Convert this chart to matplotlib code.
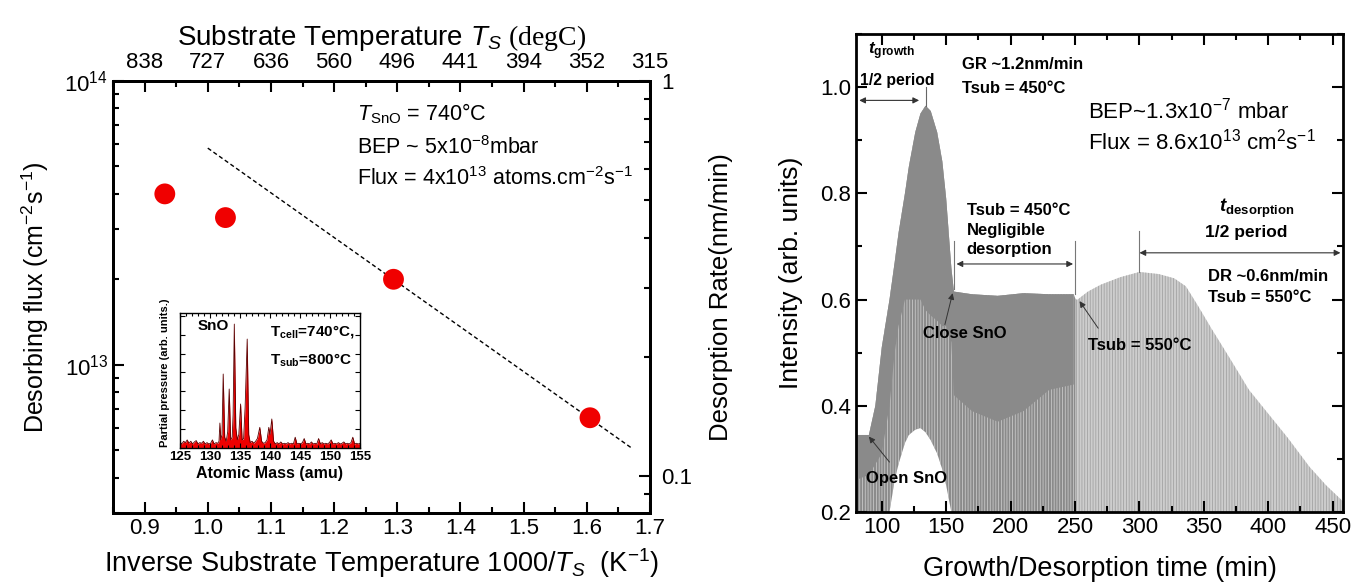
import numpy as np
import matplotlib
matplotlib.use("Agg")
import matplotlib.pyplot as plt
from matplotlib.ticker import FixedLocator, FixedFormatter, LogLocator, NullFormatter, MultipleLocator, LogFormatterMathtext

plt.rcParams['font.family'] = ['Liberation Sans', 'DejaVu Sans']
plt.rcParams['mathtext.fontset'] = 'custom'
plt.rcParams['mathtext.rm'] = 'Liberation Sans'
plt.rcParams['mathtext.it'] = 'Liberation Sans:italic'
plt.rcParams['mathtext.bf'] = 'Liberation Sans:bold'
plt.rcParams['mathtext.bfit'] = 'Liberation Sans:italic:bold'
plt.rcParams['mathtext.sf'] = 'Liberation Serif'
plt.rcParams['hatch.linewidth'] = 0.6

# ---------------- data: left panel ----------------
inv_T = [0.932, 1.028, 1.294, 1.605]          # 1000/T (K^-1)
flux = [4.0e13, 3.3e13, 2.0e13, 6.5e12]       # cm^-2 s^-1
fit_x = [1.0, 1.67]
fit_y = [5.8e13, 5.1e12]
bottom_ticks = [0.9, 1.0, 1.1, 1.2, 1.3, 1.4, 1.5, 1.6, 1.7]
top_tick_labels = ['838', '727', '636', '560', '496', '441', '394', '352', '315']

# inset mass spectrum
mass = [125.0, 125.3, 125.6, 125.9, 126.2, 126.5, 126.8, 127.1, 127.4, 127.7, 128.0,
        128.3, 128.6, 128.9, 129.2, 129.5, 129.8, 130.1, 130.4, 130.7, 131.0, 131.3,
        131.5, 131.65, 131.8, 132.0, 132.2, 132.45, 132.7, 132.95, 133.2, 133.45, 133.7,
        133.85, 134.05, 134.3, 134.55, 134.8, 135.1, 135.35, 135.6, 135.85, 136.2, 136.45,
        136.7, 137.0, 137.3, 137.6, 137.9, 138.3, 138.6, 138.9, 139.2, 139.5, 139.8, 140.0,
        140.3, 140.6, 140.9, 141.2, 141.5, 141.8, 142.1, 142.4, 142.7, 143.0, 143.3, 143.6,
        143.9, 144.2, 144.5, 144.8, 145.1, 145.4, 145.7, 146.0, 146.3, 146.6, 146.9, 147.2,
        147.5, 147.8, 148.1, 148.4, 148.7, 149.0, 149.3, 149.6, 149.9, 150.2, 150.5, 150.8,
        151.1, 151.4, 151.7, 152.0, 152.3, 152.6, 152.9, 153.2, 153.5, 153.8, 154.1, 154.4,
        154.7, 155.0]
pressure = [0.045, 0.03, 0.05, 0.04, 0.06, 0.035, 0.05, 0.03, 0.045, 0.055, 0.03,
            0.04, 0.035, 0.05, 0.03, 0.04, 0.03, 0.035, 0.06, 0.03, 0.04, 0.035,
            0.05, 0.185, 0.06, 0.10, 0.548, 0.08, 0.05, 0.12, 0.437, 0.06, 0.08,
            0.25, 0.918, 0.15, 0.06, 0.10, 0.326, 0.06, 0.07, 0.30, 0.807, 0.10,
            0.04, 0.05, 0.035, 0.05, 0.07, 0.153, 0.05, 0.035, 0.04, 0.06, 0.153, 0.10,
            0.215, 0.05, 0.03, 0.04, 0.03, 0.045, 0.03, 0.035, 0.03, 0.04, 0.03, 0.035,
            0.03, 0.08, 0.03, 0.035, 0.03, 0.04, 0.07, 0.03, 0.035, 0.03, 0.045, 0.03,
            0.035, 0.03, 0.07, 0.03, 0.04, 0.03, 0.035, 0.03, 0.04, 0.06, 0.03, 0.035,
            0.03, 0.04, 0.03, 0.035, 0.045, 0.03, 0.035, 0.03, 0.04, 0.08, 0.03, 0.035,
            0.03, 0.035]

# ---------------- data: right panel (RHEED envelope) ----------------
t_env = [80, 90, 95, 100, 106, 110, 113, 118, 121, 126, 130, 134, 138, 143, 147, 150,
         154, 156, 170, 190, 210, 230, 249, 250.5, 252, 260, 270, 285, 300, 315, 327,
         336, 345, 356, 370, 385, 400, 415, 432, 445, 458]
upper = [0.345, 0.345, 0.40, 0.51, 0.60, 0.67, 0.725, 0.80, 0.85, 0.915, 0.95, 0.965,
         0.955, 0.915, 0.86, 0.79, 0.66, 0.615, 0.61, 0.607, 0.612, 0.61, 0.61, 0.60,
         0.60, 0.615, 0.628, 0.642, 0.652, 0.648, 0.64, 0.625, 0.59, 0.545, 0.49, 0.43,
         0.385, 0.34, 0.285, 0.25, 0.22]
hole = [0.19, 0.19, 0.19, 0.19, 0.20, 0.26, 0.29, 0.33, 0.345, 0.355, 0.358, 0.35,
        0.335, 0.31, 0.28, 0.25, 0.20, 0.19, 0.19, 0.19, 0.19, 0.19, 0.19, 0.19,
        0.19, 0.19, 0.19, 0.19, 0.19, 0.19, 0.19, 0.19, 0.19, 0.19, 0.19, 0.19,
        0.19, 0.19, 0.19, 0.19, 0.19]
dark_lower = [0.26, 0.27, 0.29, 0.31, 0.40, 0.50, 0.55, 0.60, 0.60, 0.60, 0.60, 0.58,
              0.57, 0.56, 0.55, 0.55, 0.52, 0.42, 0.39, 0.37, 0.39, 0.43, 0.44, np.nan,
              np.nan, np.nan, np.nan, np.nan, np.nan, np.nan, np.nan, np.nan, np.nan,
              np.nan, np.nan, np.nan, np.nan, np.nan, np.nan, np.nan, np.nan]
growth_end = 250.5

fig = plt.figure(figsize=(13.51, 5.84), dpi=100)

TICK = 16
LAB = 19.5

# ================= LEFT PANEL =================
ax = fig.add_axes([113/1351, 1-513/584, 537/1351, 432/584])
ax.set_xlim(0.85, 1.7)
ax.set_yscale('log')
ax.set_ylim(3e12, 1e14)
ax.plot(fit_x, fit_y, ls=(0, (3, 2)), color='black', lw=1.0, zorder=2)
ax.scatter(inv_T, flux, s=225, color='#f00000', edgecolors='none', zorder=3)
ax.set_xticks(bottom_ticks)
ax.set_xticklabels([f'{v:.1f}' for v in bottom_ticks])
ax.xaxis.set_minor_locator(MultipleLocator(0.05))
ax.yaxis.set_major_locator(LogLocator(base=10))
ax.yaxis.set_major_formatter(LogFormatterMathtext())
ax.yaxis.set_minor_locator(LogLocator(base=10, subs=np.arange(2, 10)))
ax.yaxis.set_minor_formatter(NullFormatter())
ax.tick_params(which='both', direction='in', top=False, right=False, width=1.5)
ax.tick_params(which='major', length=8, labelsize=TICK)
ax.tick_params(which='minor', length=4)
for s in ax.spines.values():
    s.set_linewidth(2)
ax.set_xlabel(r'Inverse Substrate Temperature 1000/$T_S$  (K$^{-1}$)', fontsize=LAB, labelpad=5)
ax.set_ylabel(r'Desorbing flux (cm$^{-2}$s$^{-1}$)', fontsize=18, labelpad=10)

axr = ax.twinx()
axr.set_yscale('log')
axr.set_ylim(0.0806, 1.0)
axr.yaxis.set_major_locator(FixedLocator([0.1, 1.0]))
axr.yaxis.set_major_formatter(FixedFormatter(['0.1', '1']))
axr.yaxis.set_minor_locator(LogLocator(base=10, subs=np.arange(2, 10)))
axr.yaxis.set_minor_formatter(NullFormatter())
axr.tick_params(which='both', direction='in', width=1.5)
axr.tick_params(which='major', length=8, labelsize=TICK, pad=8)
axr.tick_params(which='minor', length=4)
axr.set_ylabel('Desorption Rate(nm/min)', fontsize=18.5, labelpad=12)

axt = ax.twiny()
axt.set_xlim(ax.get_xlim())
axt.set_xticks(bottom_ticks)
axt.set_xticklabels(top_tick_labels)
axt.xaxis.set_minor_locator(MultipleLocator(0.05))
axt.tick_params(which='both', direction='in', width=1.5)
axt.tick_params(which='major', length=8, labelsize=TICK, pad=6)
axt.tick_params(which='minor', length=4)
axt.set_xlabel(r'Substrate Temperature $T_S$ $\mathsf{(degC)}$', fontsize=20, labelpad=5)
for a in (axr, axt):
    for s in a.spines.values():
        s.set_linewidth(2)

ax.text(0.455, 0.925, r'$T_{\mathrm{SnO}}$ = 740°C', transform=ax.transAxes, fontsize=15.5, va='center')
ax.text(0.455, 0.845, r'BEP ~ 5x10$^{-8}$mbar', transform=ax.transAxes, fontsize=15.5, va='center')
ax.text(0.455, 0.775, r'Flux = 4x10$^{13}$ atoms.cm$^{-2}$s$^{-1}$', transform=ax.transAxes, fontsize=15.5, va='center')

# inset
ins = fig.add_axes([180/1351, 1-448/584, 180/1351, 135/584])
ins.fill_between(mass, 0, pressure, color='#ee0000', lw=0)
ins.plot(mass, pressure, color='#5a0000', lw=0.6)
ins.set_xlim(125, 155)
ins.set_ylim(0, 1.0)
ins.set_xticks([125, 130, 135, 140, 145, 150, 155])
ins.xaxis.set_minor_locator(MultipleLocator(1))
ins.yaxis.set_major_locator(MultipleLocator(0.14))
ins.yaxis.set_major_formatter(NullFormatter())
ins.tick_params(which='both', direction='in', top=True, right=True, width=0.8)
ins.tick_params(which='major', length=3.5, labelsize=9.5, pad=2)
ins.tick_params(which='minor', length=2)
for lab in ins.get_xticklabels():
    lab.set_fontweight('bold')
for s in ins.spines.values():
    s.set_linewidth(1.0)
ins.set_xlabel('Atomic Mass (amu)', fontsize=11.5, fontweight='bold', labelpad=2)
ins.set_ylabel('Partial pressure (arb. units.)', fontsize=8, fontweight='bold')
ins.yaxis.set_label_coords(-0.055, 0.56)
ins.text(0.10, 0.90, 'SnO', transform=ins.transAxes, fontsize=11, fontweight='bold', va='center')
ins.text(0.50, 0.86, r'T$_{\mathbf{cell}}$=740°C,', transform=ins.transAxes, fontsize=11, fontweight='bold', va='center')
ins.text(0.50, 0.65, r'T$_{\mathbf{sub}}$=800°C', transform=ins.transAxes, fontsize=11, fontweight='bold', va='center')

# ================= RIGHT PANEL =================
bx = fig.add_axes([856/1351, 1-512/584, 487/1351, 478/584])
bx.set_xlim(80, 458)
bx.set_ylim(0.2, 1.1)
t_arr = np.array(t_env)
up = np.array(upper)
ho = np.array(hole)
dl = np.array(dark_lower)
grow = t_arr <= growth_end
deso = t_arr >= growth_end
# growth / plateau striped region
bx.fill_between(t_arr, ho, up, where=grow, facecolor='#8a8a8a', edgecolor='#c8c8c8',
                hatch='||||||', linewidth=0, zorder=1)
# solid dark region above oscillation minima
bx.fill_between(t_arr, dl, up, facecolor='#8a8a8a', linewidth=0, zorder=2)
# desorption striped region
bx.fill_between(t_arr, ho, up, where=deso, facecolor='#cdcdcd', edgecolor='#a2a2a2',
                hatch='||||||', linewidth=0, zorder=1)

bx.xaxis.set_major_locator(MultipleLocator(50))
bx.xaxis.set_minor_locator(MultipleLocator(25))
bx.yaxis.set_major_locator(MultipleLocator(0.2))
bx.yaxis.set_minor_locator(MultipleLocator(0.1))
bx.yaxis.set_major_formatter(matplotlib.ticker.FormatStrFormatter('%.1f'))
bx.tick_params(which='both', direction='in', top=True, right=True, width=1.5)
bx.tick_params(which='major', length=8, labelsize=TICK)
bx.tick_params(which='minor', length=4)
for s in bx.spines.values():
    s.set_linewidth(2)
    s.set_zorder(5)
bx.set_xlabel('Growth/Desorption time (min)', fontsize=LAB, labelpad=13)
bx.set_ylabel('Intensity (arb. units)', fontsize=19, labelpad=12)

bold = dict(fontsize=12, fontweight='bold', zorder=6)
arrow2 = dict(arrowstyle='<|-|>', color='#333333', lw=0.8, mutation_scale=9, shrinkA=0, shrinkB=0)
arrow1 = dict(arrowstyle='-|>', color='#333333', lw=0.7, mutation_scale=9, shrinkA=0, shrinkB=0)

bx.text(89, 1.068, r'$\mathbfit{t}_{\mathbf{growth}}$', fontsize=12.3, va='center', zorder=6)
bx.text(83, 1.012, '1/2 period', va='center', fontsize=11.3, fontweight='bold', zorder=6)
bx.annotate('', xy=(82.5, 0.975), xytext=(129, 0.975), arrowprops=arrow2, zorder=6)
bx.plot([134, 134], [0.965, 1.0], color='#666666', lw=0.8, zorder=6)
bx.text(162, 1.042, 'GR ~1.2nm/min', va='center', **bold)
bx.text(162, 0.998, 'Tsub = 450°C', va='center', **bold)
bx.text(260, 0.955, r'BEP~1.3x10$^{-7}$ mbar', fontsize=16, va='center', zorder=6)
bx.text(260, 0.898, r'Flux = 8.6x10$^{13}$ cm$^2$s$^{-1}$', fontsize=16, va='center', zorder=6)
bx.text(166, 0.768, 'Tsub = 450°C', va='center', **bold)
bx.text(166, 0.730, 'Negligible', va='center', **bold)
bx.text(166, 0.694, 'desorption', va='center', **bold)
bx.annotate('', xy=(158, 0.667), xytext=(248.5, 0.667), arrowprops=arrow2, zorder=6)
bx.plot([156, 156], [0.62, 0.71], color='#777777', lw=0.8, zorder=6)
bx.plot([250, 250], [0.61, 0.71], color='#777777', lw=0.8, zorder=6)
bx.text(362, 0.772, r'$\mathbfit{t}_{\mathbf{desorption}}$', fontsize=13.5, va='center', zorder=6)
bx.text(351, 0.726, '1/2 period', fontsize=12.5, fontweight='bold', va='center', zorder=6)
bx.annotate('', xy=(300, 0.688), xytext=(456, 0.688), arrowprops=arrow2, zorder=6)
bx.plot([300, 300], [0.652, 0.73], color='#777777', lw=0.8, zorder=6)
bx.text(353, 0.644, 'DR ~0.6nm/min', va='center', **bold)
bx.text(353, 0.603, 'Tsub = 550°C', va='center', **bold)
bx.text(132, 0.537, 'Close SnO', va='center', **bold)
bx.annotate('', xy=(155, 0.612), xytext=(149, 0.553), arrowprops=arrow1, zorder=6)
bx.text(260, 0.514, 'Tsub = 550°C', va='center', **bold)
bx.annotate('', xy=(253.5, 0.597), xytext=(268, 0.546), arrowprops=arrow1, zorder=6)
bx.text(87.5, 0.264, 'Open SnO', va='center', **bold)
bx.annotate('', xy=(90, 0.342), xytext=(106, 0.294), arrowprops=arrow1, zorder=6)

fig.savefig('out.png', dpi=100)
